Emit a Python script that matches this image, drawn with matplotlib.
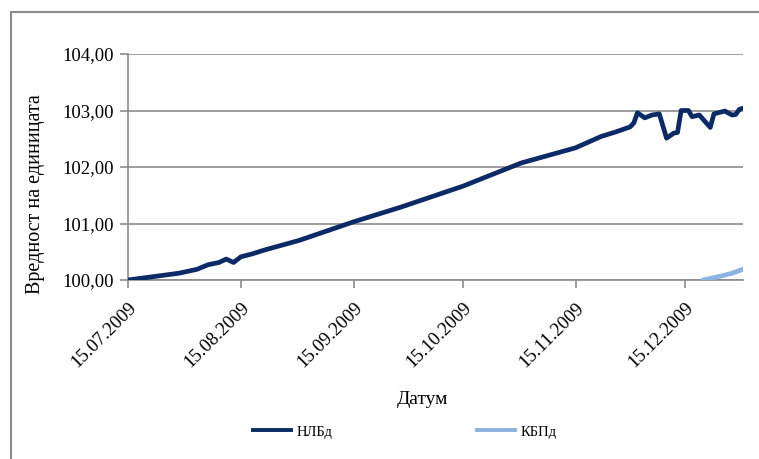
import matplotlib
matplotlib.use("Agg")
import matplotlib.pyplot as plt
from matplotlib.patches import Rectangle
from matplotlib.lines import Line2D
import pandas as pd

nlb_dates = ["15.07.2009", "22.07.2009", "29.07.2009", "03.08.2009", "06.08.2009",
             "09.08.2009", "11.08.2009", "13.08.2009", "15.08.2009", "18.08.2009",
             "20.08.2009", "22.08.2009", "31.08.2009", "15.09.2009", "28.09.2009",
             "15.10.2009", "31.10.2009", "15.11.2009", "22.11.2009", "26.11.2009",
             "30.11.2009", "01.12.2009", "02.12.2009", "04.12.2009", "06.12.2009",
             "08.12.2009", "10.12.2009", "12.12.2009", "13.12.2009", "14.12.2009",
             "16.12.2009", "17.12.2009", "19.12.2009", "22.12.2009", "23.12.2009",
             "26.12.2009", "28.12.2009", "29.12.2009", "30.12.2009", "31.12.2009"]
nlb_values = [100.00, 100.06, 100.12, 100.19, 100.27,
              100.31, 100.37, 100.31, 100.41, 100.46,
              100.50, 100.54, 100.70, 101.03, 101.29,
              101.66, 102.07, 102.34, 102.54, 102.62,
              102.71, 102.78, 102.96, 102.87, 102.92,
              102.94, 102.51, 102.60, 102.61, 103.00,
              103.00, 102.89, 102.92, 102.70, 102.94,
              102.99, 102.92, 102.93, 103.02, 103.04]

kbp_dates = ["20.12.2009", "25.12.2009", "28.12.2009", "31.12.2009"]
kbp_values = [100.00, 100.07, 100.12, 100.19]

tick_labels = ["15.07.2009", "15.08.2009", "15.09.2009", "15.10.2009", "15.11.2009", "15.12.2009"]
y_ticks = [100, 101, 102, 103, 104]

series_names = ["НЛБд", "КБПд"]
x_title = "Датум"
y_title = "Вредност на единицата"

dark = "#0c2a66"
light = "#8db3e2"
gray = "#8c8c8c"
serif = ["Liberation Serif", "DejaVu Serif"]

fig = plt.figure(figsize=(7.59, 4.59), dpi=100)
ax = fig.add_axes([128 / 759, 1 - 280 / 459, (743 - 128) / 759, (280 - 54) / 459])

to_dt = lambda lst: pd.to_datetime(lst, format="%d.%m.%Y")
ax.plot(to_dt(nlb_dates), nlb_values, color=dark, lw=3.4, solid_joinstyle="round",
        solid_capstyle="round", zorder=3)
ax.plot(to_dt(kbp_dates), kbp_values, color=light, lw=3.4, solid_joinstyle="round",
        solid_capstyle="round", zorder=3)

ax.set_xlim(pd.Timestamp("2009-07-15"), pd.Timestamp("2009-12-31"))
ax.set_ylim(100, 104)
ax.set_yticks(y_ticks)
ax.set_yticklabels([f"{v:.2f}".replace(".", ",") for v in y_ticks], family=serif, fontsize=13.5)
ax.set_xticks(to_dt(tick_labels))
ax.set_xticklabels(tick_labels, rotation=45, ha="right", va="top", rotation_mode="anchor",
                   family=serif, fontsize=13.5)

ax.grid(axis="y", color=gray, lw=1.2)
ax.set_axisbelow(True)
for s in ["top", "right"]:
    ax.spines[s].set_visible(False)
for s in ["left", "bottom"]:
    ax.spines[s].set_color(gray)
    ax.spines[s].set_linewidth(1.2)
ax.tick_params(axis="both", color=gray, width=1.2, length=6, direction="out", pad=4)
ax.tick_params(axis="x", pad=8)

ax.set_xlabel(x_title, family=serif, fontsize=14)
ax.set_ylabel(y_title, family=serif, fontsize=14.5)
ax.yaxis.set_label_coords(-0.135, 0.38)
ax.xaxis.set_label_coords(0.478, -0.49)

handles = [Line2D([], [], color=dark, lw=2.8), Line2D([], [], color=light, lw=2.8)]
leg = fig.legend(handles, series_names, loc="center", bbox_to_anchor=(405 / 759, 1 - 432 / 459),
                 ncol=2, frameon=False, prop={"family": serif, "size": 10.5},
                 handlelength=2.6, handletextpad=0.4, columnspacing=9.9)

fig.patches.append(Rectangle((11 / 759, -0.5), 2.0, 0.5 + (1 - 12 / 459), transform=fig.transFigure,
                             fill=False, edgecolor=gray, lw=1.5, clip_on=False))

fig.savefig("out.png", dpi=100)
